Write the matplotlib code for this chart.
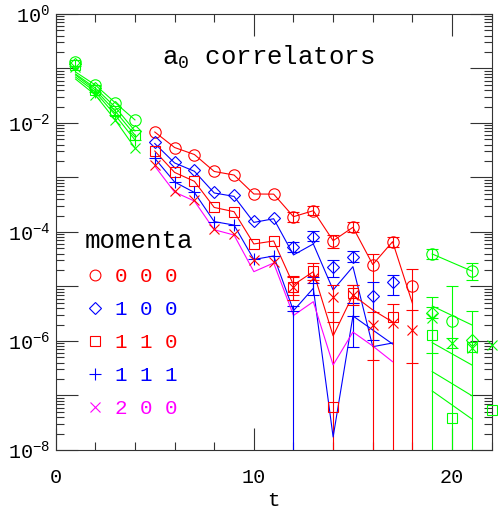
import numpy as np
import matplotlib
matplotlib.use('Agg')
import matplotlib.pyplot as plt
from matplotlib.lines import Line2D
from matplotlib.ticker import FixedLocator, FixedFormatter, NullFormatter

plt.rcParams['font.family'] = ['Liberation Mono', 'DejaVu Sans']
plt.rcParams['mathtext.default'] = 'regular'

nan = np.nan
t = np.arange(1, 23)

# ---- momentum 0 0 0 (circles) ----
c000 = [1.32e-1, 4.98e-2, 2.36e-2, 1.14e-2, 6.84e-3, 3.55e-3, 2.64e-3, 1.29e-3, 1.11e-3, 4.98e-4, 4.95e-4,
        1.91e-4, 2.46e-4, 6.92e-5, 1.22e-4, 2.53e-5, 6.64e-5, 1.02e-5, 3.95e-5, 2.36e-6, 1.92e-5, nan]
l000 = [8.63e-2, 4.98e-2, 2.36e-2, 1.14e-2, 6.84e-3, 3.55e-3, 2.64e-3, 1.29e-3, 1.11e-3, 4.98e-4, 4.95e-4,
        1.91e-4, 2.46e-4, 6.92e-5, 1.22e-4, 2.53e-5, 6.64e-5, 4.92e-6, 3.95e-5, 2.75e-5, 1.92e-5, nan]
hi000 = [nan]*11 + [2.33e-4, 3.00e-4, 8.81e-5, 1.53e-4, 3.95e-5, 8.09e-5, 2.07e-5, 4.87e-5, 1.00e-5, 2.70e-5, nan]
lo000 = [nan]*11 + [1.53e-4, 2.05e-4, 5.08e-5, 1.00e-4, 1e-9, 5.31e-5, 1e-9, 3.20e-5, 1e-9, 1.32e-5, nan]

# ---- momentum 1 0 0 (diamonds) ----
c100 = [1.21e-1, 4.39e-2, 1.97e-2, 7.13e-3, 4.39e-3, 1.92e-3, 1.37e-3, 5.42e-4, 4.68e-4, 1.59e-4, 1.83e-4,
        5.24e-5, 8.20e-5, 2.25e-5, 3.52e-5, 6.70e-6, 1.22e-5, nan, 3.22e-6, nan, 1.04e-6, nan]
l100 = [7.93e-2, 4.39e-2, 1.97e-2, 7.13e-3, 4.20e-3, 1.85e-3, 1.30e-3, 5.20e-4, 4.50e-4, 1.50e-4, 1.75e-4,
        3.79e-5, 6.03e-5, 8.63e-6, 2.31e-5, 7.86e-7, 9.19e-7, nan, 4.39e-6, 2.94e-6, 1.97e-6, nan]
hi100 = [nan]*11 + [6.56e-5, 1.04e-4, 3.06e-5, 4.48e-5, 1.22e-5, 1.63e-5, nan, 6.34e-6, nan, nan, nan]
lo100 = [nan]*11 + [4.30e-5, 6.84e-5, 1.48e-5, 2.82e-5, 1.04e-6, 6.98e-6, nan, 1e-9, nan, nan, nan]

# ---- momentum 1 1 0 (squares) ----
c110 = [1.16e-1, 4.03e-2, 1.66e-2, 6.02e-3, 3.06e-3, 1.24e-3, 8.51e-4, 2.82e-4, 2.36e-4, 6.03e-5, 6.84e-5,
        9.91e-6, 1.92e-5, 6.23e-8, 7.69e-6, nan, 2.72e-6, nan, 1.29e-6, 3.82e-8, 7.86e-7, 5.42e-8]
l110 = [7.60e-2, 4.03e-2, 1.66e-2, 6.02e-3, 3.06e-3, 1.24e-3, 8.51e-4, 2.82e-4, 2.36e-4, 6.03e-5, 6.84e-5,
        1.07e-5, 1.87e-5, 1.24e-6, 6.98e-6, 3.71e-6, 2.23e-6, nan, 1.21e-7, 6.70e-8, 3.71e-8, nan]
hi110 = [nan]*11 + [1.51e-5, 2.70e-5, 3.45e-6, 1.07e-5, nan, 4.77e-6, nan, nan, nan, 3.60e-6, nan]
lo110 = [nan]*11 + [6.98e-6, 1.32e-5, 1e-9, 4.98e-6, nan, 1e-9, nan, nan, nan, 1e-9, nan]

# ---- momentum 1 1 1 (plus) ----
c111 = [1.11e-1, 3.71e-2, 1.40e-2, 4.88e-3, 2.25e-3, 8.27e-4, 5.31e-4, 1.55e-4, 1.34e-4, 3.13e-5, 3.63e-5,
        3.60e-6, 1.15e-5, nan, 2.88e-6, nan, nan, nan, 2.64e-6, nan, nan, nan]
l111 = [6.98e-2, 3.71e-2, 1.40e-2, 4.88e-3, 2.25e-3, 8.27e-4, 5.31e-4, 1.55e-4, 1.34e-4, 3.13e-5, 3.63e-5,
        3.60e-6, 9.27e-6, 1.73e-8, 2.88e-6, 1.59e-6, 8.81e-7, nan, 9.31e-7, 5.81e-7, 3.63e-7, nan]
hi111 = [nan]*11 + [4.39e-6, 1.51e-5, nan, 4.92e-6, nan, nan, nan, 4.26e-6, nan, nan, nan]
lo111 = [nan]*11 + [1e-9, 6.98e-6, nan, 7.86e-7, nan, nan, nan, 6.10e-7, nan, nan, nan]

# ---- momentum 2 0 0 (crosses) ----
c200 = [1.07e-1, 3.27e-2, 1.14e-2, 3.48e-3, 1.69e-3, 5.65e-4, 3.86e-4, 1.14e-4, 9.19e-5, 3.06e-5, 2.82e-5,
        9.79e-6, 1.43e-5, 6.50e-6, 6.98e-6, 1.97e-6, 2.17e-6, 1.59e-6, 2.64e-6, 9.08e-7, 7.44e-7, 8.45e-7]
l200 = [6.42e-2, 3.27e-2, 1.14e-2, 3.48e-3, 1.62e-3, 5.40e-4, 3.70e-4, 1.10e-4, 8.80e-5, 1.87e-5, 2.70e-5,
        2.94e-6, 5.26e-6, 3.63e-7, 1.46e-6, 8.09e-7, 4.17e-7, nan, 2.74e-7, 1.65e-7, 9.91e-8, nan]
hi200 = [nan]*11 + [1.56e-5, nan, 1.07e-5, 1.07e-5, 3.45e-6, nan, 3.71e-6, nan, 1.14e-6, nan, nan]
lo200 = [nan]*11 + [5.65e-6, nan, 2.26e-6, 4.58e-6, 4.48e-7, nan, 3.90e-7, nan, 7.44e-7, nan, nan]

labels = ['0 0 0', '1 0 0', '1 1 0', '1 1 1', '2 0 0']
xticks_major = [0, 10, 20]

RED, BLUE, MAG, GREEN = '#ff0000', '#0000ff', '#ff00ff', '#00ff00'

series = [
    (c000, l000, lo000, hi000, 'o', 8.2, RED, RED, RED),
    (c100, l100, lo100, hi100, 'D', 6.0, BLUE, BLUE, BLUE),
    (c110, l110, lo110, hi110, 's', 7.8, RED, RED, RED),
    (c111, l111, lo111, hi111, '+', 9.0, BLUE, BLUE, BLUE),
    (c200, l200, lo200, hi200, 'x', 7.6, RED, MAG, MAG),
]

fig = plt.figure(figsize=(4.98, 5.11), dpi=100)
ax = fig.add_axes([0.1118, 0.1194, 0.8755, 0.8532])

g1 = t <= 4
mid = (t >= 5) & (t <= 18)
g2 = t >= 19
LW = 0.8

handles = []
for vals, line, lo, hi, mk, ms, mc, lc, legc in series:
    v = np.array(vals, dtype=float)
    ln = np.array(line, dtype=float)
    lo = np.array(lo, dtype=float)
    hi = np.array(hi, dtype=float)
    for mask, lcol, mcol in ((g1, GREEN, GREEN), (mid, lc, mc), (g2, GREEN, GREEN)):
        ax.plot(t[mask], ln[mask], color=lcol, lw=LW, zorder=2)
        ax.plot(t[mask], v[mask], ls='none', marker=mk, ms=ms, mfc='none', mec=mcol,
                mew=0.8, clip_on=False, zorder=3)
        em = mask & ~np.isnan(lo) & ~np.isnan(v)
        if em.any():
            ax.errorbar(t[em], v[em], yerr=[v[em] - lo[em], hi[em] - v[em]], fmt='none',
                        ecolor=mcol, elinewidth=LW, capsize=4.3, capthick=LW, zorder=2)
    handles.append(Line2D([], [], ls='none', marker=mk, ms=ms * 0.95, mfc='none', mec=legc, mew=0.8))

ax.set_xlim(0, 22)
ax.set_yscale('log')
ax.set_ylim(1e-8, 1)

ax.xaxis.set_major_locator(FixedLocator(xticks_major))
ax.xaxis.set_minor_locator(FixedLocator(np.arange(0, 23, 2)))
ax.xaxis.set_major_formatter(FixedFormatter([str(v) for v in xticks_major]))

decades = np.arange(-8, 1)
ax.yaxis.set_major_locator(FixedLocator(10.0 ** decades))
ax.yaxis.set_major_formatter(FixedFormatter(
    [r'$10^{%d}$' % d if d % 2 == 0 else '' for d in decades]))
minors = [m * 10.0 ** d for d in decades[:-1] for m in range(2, 10)]
ax.yaxis.set_minor_locator(FixedLocator(minors))
ax.yaxis.set_minor_formatter(NullFormatter())

ax.tick_params(which='both', direction='in', top=True, right=True, color='#333333', width=0.8)
ax.tick_params(which='major', length=15.5)
ax.tick_params(which='minor', length=5.5)
ax.tick_params(axis='x', which='major', pad=13, labelsize=14.5)
ax.tick_params(axis='y', which='major', pad=4, labelsize=14.5)
for s in ax.spines.values():
    s.set_color('#333333')
    s.set_linewidth(0.8)

ax.set_xlabel('t', fontsize=15, labelpad=2.5)

ax.text(0.487, 0.901, r'a$_{0}$ correlators', transform=ax.transAxes, ha='center', va='center',
        fontsize=18.5)

leg = ax.legend(handles, labels, title='momenta', loc='upper left', bbox_to_anchor=(0.066, 0.506),
                frameon=False, fontsize=15, title_fontsize=18.5, handlelength=1.0,
                handletextpad=0.45, labelspacing=0.67, borderpad=0, borderaxespad=0,
                alignment='left')
for txt, (_, _, _, _, _, _, _, _, legc) in zip(leg.get_texts(), series):
    txt.set_color(legc)

fig.savefig('out.png', dpi=100, facecolor='white')
